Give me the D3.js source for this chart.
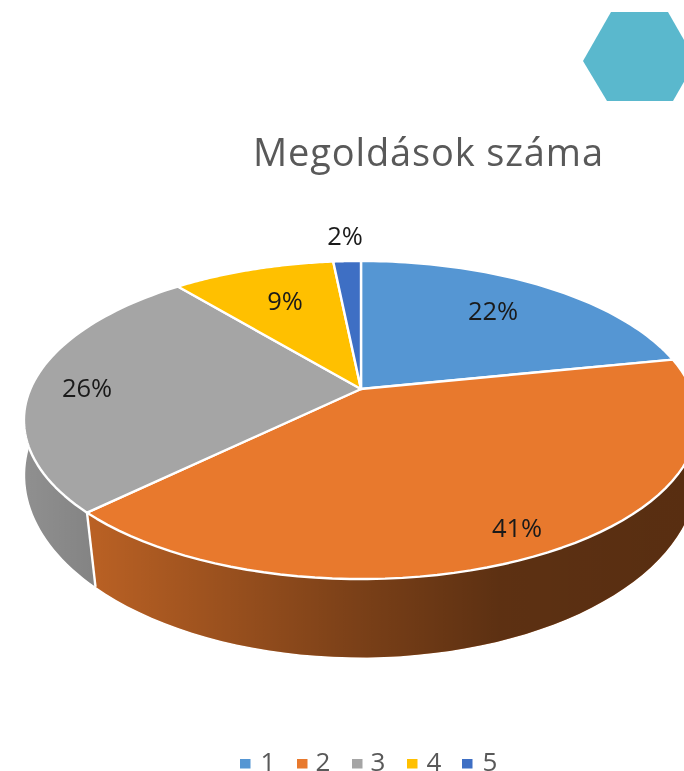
<!DOCTYPE html>
<html>
<head>
<meta charset="utf-8">
<script src="https://cdn.jsdelivr.net/npm/d3@7"></script>
<style>
  html, body { margin: 0; padding: 0; background: #fff; overflow: hidden; }
  svg { display: block; filter: blur(0.45px); }
  text { font-family: "Open Sans", sans-serif; }
</style>
</head>
<body>
<div id="chart"></div>
<script>
// values, the labels show them rounded
var categories = ["1", "2", "3", "4", "5"];
var shares = [21.8, 40.9, 26.3, 9.4, 1.6];
var colors = ["#5596d3", "#e8792d", "#a5a5a5", "#ffc000", "#3e6fc4"];
var chartTitle = "Megoldások száma";

var width = 684, height = 771;

var svg = d3.select("#chart")
  .append("svg")
  .attr("width", width)
  .attr("height", height);

// the decoration in the corner
svg.append("path")
  .attr("d", d3.line()([[583, 61], [611, 12], [668, 12], [696, 61], [673, 101], [607, 101]]) + "Z")
  .attr("fill", "#5ab8cd");

// perspective view of a circle, top plane and lower plane of the disc
var topPlane = { cx: 361, cy: 389, a: 330.6, b: 153, p: 0.195 };
var lowPlane = { cx: 361, cy: 448, a: 332, b: 178, p: 0.15 };

function project(plane, angle) {
  var X = Math.sin(angle), Y = Math.cos(angle), w = 1 + plane.p * Y;
  return [plane.cx + plane.a * X / w, plane.cy - plane.b * Y / w];
}

function arcPoints(plane, start, end) {
  return d3.range(0, 61).map(function (i) {
    return project(plane, start + (end - start) * i / 60);
  });
}

var pie = d3.pie().sort(null).startAngle(0).endAngle(2 * Math.PI);
var slices = pie(shares);
var color = d3.scaleOrdinal().domain(categories).range(colors);
var line = d3.line();

// shading of the side wall, dark to the right
var defs = svg.append("defs");
var shade = defs.append("linearGradient")
  .attr("id", "wallShade")
  .attr("gradientUnits", "userSpaceOnUse")
  .attr("x1", 24).attr("y1", 0).attr("x2", 684).attr("y2", 0);
[[0, 0.13], [0.1, 0.2], [0.5, 0.47], [0.72, 0.6], [1, 0.62]].forEach(function (s) {
  shade.append("stop")
    .attr("offset", s[0])
    .attr("stop-color", "#000")
    .attr("stop-opacity", s[1]);
});

// Add the side walls
var walls = svg.append("g");
slices.forEach(function (d, i) {
  var outline = arcPoints(topPlane, d.startAngle, d.endAngle)
    .concat(arcPoints(lowPlane, d.startAngle, d.endAngle).reverse());
  walls.append("path")
    .attr("d", line(outline) + "Z")
    .attr("fill", color(categories[i]));
  walls.append("path")
    .attr("d", line(outline) + "Z")
    .attr("fill", "url(#wallShade)");
});

// the white edge between the gray and the orange wall
var edgeAngle = slices[1].endAngle;
svg.append("path")
  .attr("d", line([project(topPlane, edgeAngle), project(lowPlane, edgeAngle)]))
  .attr("stroke", "#fff")
  .attr("stroke-width", 2.4);

// Add the top face
svg.append("g")
  .selectAll("path")
  .data(slices)
  .enter()
  .append("path")
  .attr("d", function (d) {
    return line([[topPlane.cx, topPlane.cy]].concat(arcPoints(topPlane, d.startAngle, d.endAngle))) + "Z";
  })
  .attr("fill", function (d, i) { return color(categories[i]); })
  .attr("stroke", "#fff")
  .attr("stroke-width", 2.4)
  .attr("stroke-linejoin", "round");

// title
svg.append("text")
  .attr("x", 428)
  .attr("y", 166)
  .attr("text-anchor", "middle")
  .attr("font-size", 38)
  .attr("textLength", 350)
  .attr("fill", "#595959")
  .text(chartTitle);

// data labels, placed by hand like in the original
var labelX = [493, 517, 87, 285, 345];
var labelY = [320, 537, 397, 310, 245];
var pct = d3.format(".0f");
svg.append("g")
  .selectAll("text")
  .data(shares)
  .enter()
  .append("text")
  .attr("x", function (d, i) { return labelX[i]; })
  .attr("y", function (d, i) { return labelY[i]; })
  .attr("text-anchor", "middle")
  .attr("font-size", 25.5)
  .attr("fill", "#1a1a1a")
  .text(function (d) { return pct(d) + "%"; });

// legend
var legendSwatch = [240, 297, 352, 407, 462];
var legendText = [268, 323, 378, 434, 490];
var legend = svg.append("g");
categories.forEach(function (c, i) {
  legend.append("rect")
    .attr("x", legendSwatch[i])
    .attr("y", 759)
    .attr("width", 10.5)
    .attr("height", 9.5)
    .attr("fill", color(c));
  legend.append("text")
    .attr("x", legendText[i])
    .attr("y", 770.5)
    .attr("text-anchor", "middle")
    .attr("font-size", 26)
    .attr("fill", "#595959")
    .text(c);
});
</script>
</body>
</html>
